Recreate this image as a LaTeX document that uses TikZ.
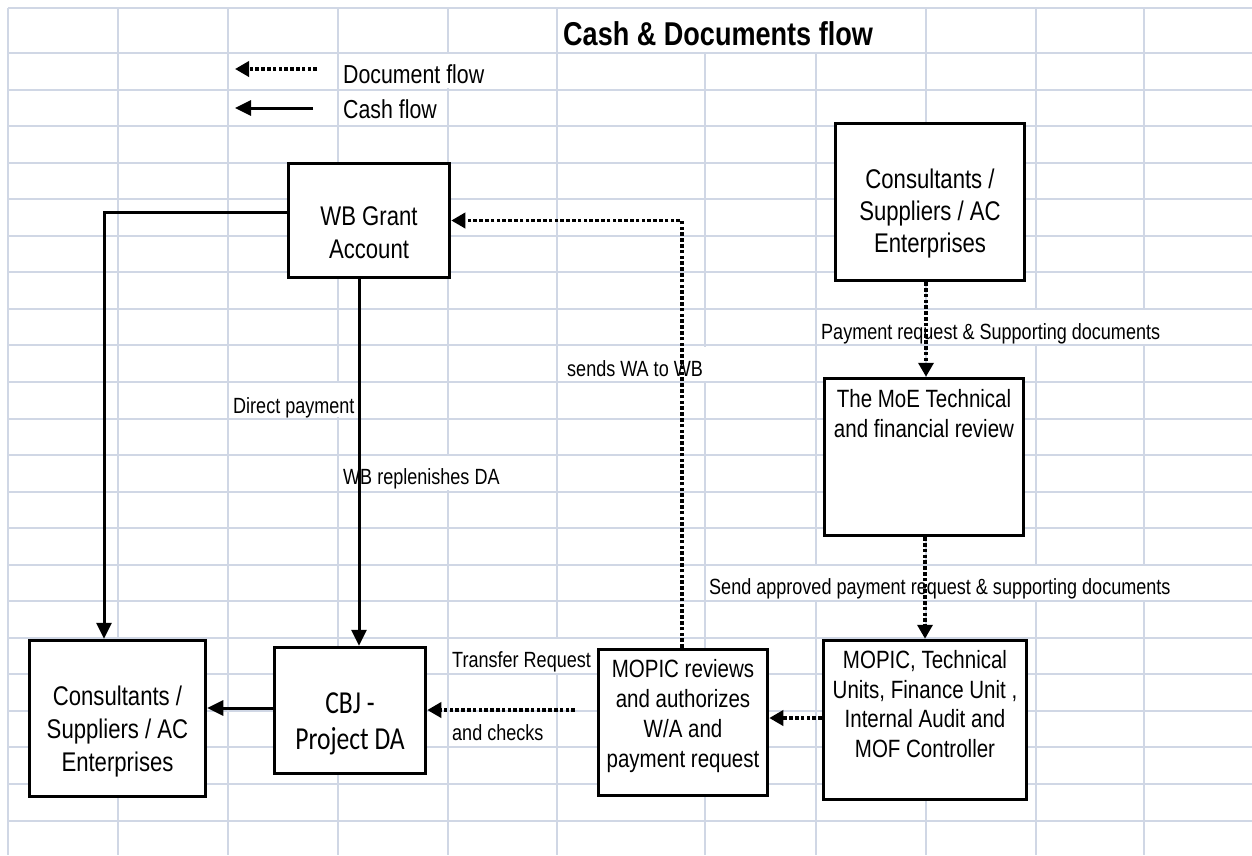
\documentclass[tikz,border=0pt]{standalone}
\usepackage{fontspec}
\setmainfont{Liberation Sans}[FakeStretch=0.82]
\newfontfamily\cbjfont{Carlito}[FakeStretch=0.8]
\usetikzlibrary{arrows.meta}
\definecolor{gridc}{RGB}{208,215,229}
\newcommand\hiderow[2]{\fill[white] ({#1-2.6},{53+36.55*(#2-1)+1.4}) rectangle ({#1+2.6},{53+36.55*#2-1.4});}
\tikzset{
  gridline/.style={draw=gridc, line width=2pt},
  box/.style={draw, line width=3.5pt, fill=white, inner sep=0pt},
  boxtext/.style={anchor=base, align=center, inner sep=0pt},
  lbl/.style={anchor=base west, inner sep=0pt, font=\fontsize{22}{26}\selectfont},
  legend/.style={anchor=base west, inner sep=0pt, font=\fontsize{26}{30}\selectfont},
  doc/.style={line width=3.5pt, dash pattern=on 3.6pt off 2.2pt, -{Triangle[length=14pt,width=15pt]}},
  cash/.style={line width=3pt, -{Triangle[length=16pt,width=15pt]}}
}
\begin{document}
\begin{tikzpicture}[x=1pt,y=-1pt]
\useasboundingbox (0,0) rectangle (1252,855);
\fill[white] (0,0) rectangle (1252,855);
% grid
\foreach \x in {8,118,228,338,448,557,705,816,926,1036,1144}
  \draw[gridline] (\x,8) -- (\x,855);
\draw[gridline] (8,8) -- (1252,8);
\foreach \k in {0,...,21}
  \draw[gridline] (8,{53+36.55*\k}) -- (1252,{53+36.55*\k});
% hidden gridline segments (text overflow)
\fill[white] (702.4,9.4) rectangle (707.6,51.6);
\fill[white] (813.4,9.4) rectangle (818.6,51.6);
\hiderow{448}{1}
\hiderow{926}{8}\hiderow{1036}{8}\hiderow{1144}{8}
\hiderow{705}{9}
\hiderow{338}{10}
\hiderow{448}{12}
\hiderow{816}{15}\hiderow{926}{15}\hiderow{1036}{15}\hiderow{1144}{15}
\hiderow{557}{17}
% title and legend
\node[anchor=base west, inner sep=0pt, font=\fontsize{33}{37}\selectfont\bfseries] (title) at (563,45) {Cash \& Documents flow};
\coordinate (ld1) at (317,69);
\coordinate (ld2) at (235,69);
\coordinate (lc1) at (313,108);
\coordinate (lc2) at (235,108);
\node[legend] (ldoc) at (343,83) {Document flow};
\node[legend] (lcash) at (343,118) {Cash flow};
% labels
\node[lbl] (l1) at (233,413) {Direct payment};
\node[lbl] (l2) at (343,484) {WB replenishes DA};
\node[lbl] (l3) at (567,376) {sends WA to WB};
\node[lbl] (l4) at (821,339) {Payment request \& Supporting documents};
\node[lbl] (l5) at (709,594) {Send approved payment request \& supporting documents};
\node[lbl] (l6) at (452,667) {Transfer Request};
\node[lbl] (l7) at (452,740) {and checks};
% boxes
\node[box, minimum width=161pt, minimum height=114pt] (wb) at (369,220.5) {};
\node[box, minimum width=189pt, minimum height=157pt] (ctr) at (930,202) {};
\node[box, minimum width=176pt, minimum height=156pt] (cbl) at (117.5,718.5) {};
\node[box, minimum width=151pt, minimum height=126pt] (cbj) at (350,710.5) {};
\node[box, minimum width=169pt, minimum height=146pt] (mrev) at (683,722.5) {};
\node[box, minimum width=203pt, minimum height=159pt] (mtech) at (925,720) {};
\node[box, minimum width=199pt, minimum height=157pt] (moe) at (924,457) {};
% box texts (anchor = baseline of the last line)
\node[boxtext, font=\fontsize{27}{33}\selectfont] (wbt) at (369,258) {WB Grant\\Account};
\node[boxtext, font=\fontsize{27}{32}\selectfont] (ctrt) at (930,252) {Consultants /\\Suppliers / AC\\Enterprises};
\node[boxtext, font=\fontsize{27}{33}\selectfont] (cblt) at (117.5,771) {Consultants /\\Suppliers / AC\\Enterprises};
\node[boxtext, font=\cbjfont\fontsize{32}{36}\selectfont] (cbjt) at (350,749) {CBJ -\\Project DA};
\node[boxtext, font=\fontsize{25}{30}\selectfont] (mrevt) at (683,767) {MOPIC reviews\\and authorizes\\W/A and\\payment request};
\node[boxtext, font=\fontsize{25}{29.5}\selectfont] (mtecht) at (925,757) {MOPIC, Technical\\Units, Finance Unit ,\\Internal Audit and\\MOF Controller};
\node[boxtext, font=\fontsize{25}{30}\selectfont] (moet) at (924,437) {The MoE Technical\\and financial review};
% legend arrows
\draw[doc] (ld1) -- (ld2);
\draw[cash] (lc1) -- (lc2);
% cash flows
\draw[cash] ([yshift=8.5pt]wb.west) -| ([xshift=-13.5pt]cbl.north);
\draw[cash] ([xshift=-10pt]wb.south) -- ([xshift=-10pt]wb.south |- cbj.north);
\draw[cash] ([yshift=2.5pt]cbj.west) -- ([yshift=2.5pt]cbj.west -| cbl.east);
% document flows
\coordinate (trq) at (575,710);
\draw[doc] (trq) -- (trq -| cbj.east);
\draw[doc] ([yshift=2pt]mtech.west) -- ([yshift=2pt]mtech.west -| mrev.east);
\draw[doc] ([xshift=-1pt]mrev.north) |- (wb.east);
\draw[doc] ([xshift=-4pt]ctr.south) -- ([xshift=-4pt]ctr.south |- moe.north);
\draw[doc] ([xshift=1pt]moe.south) -- ([xshift=1pt]moe.south |- mtech.north);
\end{tikzpicture}
\end{document}
